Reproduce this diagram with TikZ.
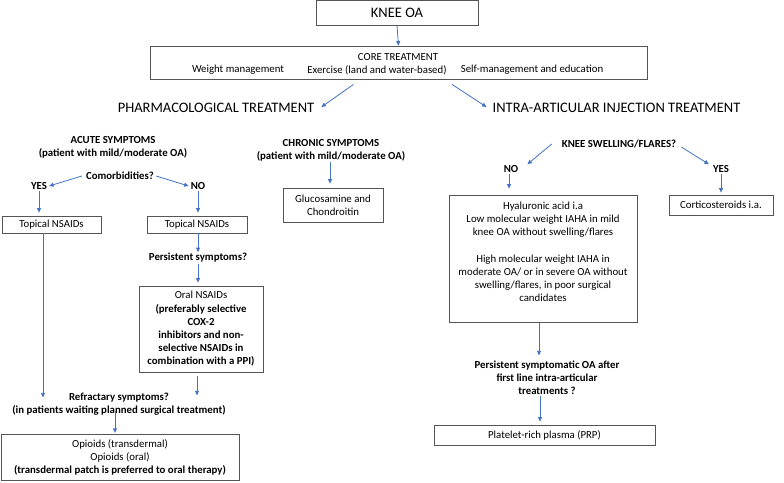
\documentclass[tikz,border=0pt]{standalone}
\usepackage{fontspec}
\setmainfont{Carlito}
\usetikzlibrary{arrows.meta,calc}
\definecolor{arrblue}{RGB}{68,114,196}
\definecolor{boxgray}{RGB}{85,85,85}
\begin{document}
\begin{tikzpicture}[x=1pt,y=-1pt,
  txt/.style={font=\fontsize{10.8}{13.2}\selectfont, align=center, inner sep=1pt},
  btxt/.style={font=\fontsize{10.8}{13.2}\selectfont\bfseries, align=center, inner sep=1pt},
  head/.style={font=\fontsize{14.5}{17}\selectfont, inner sep=1pt},
  box/.style={draw=boxgray, line width=0.8pt, inner sep=0pt, align=center, font=\fontsize{10.8}{13.2}\selectfont},
  arr/.style={draw=arrblue, line width=0.8pt, -{Triangle[length=4.5pt,width=4pt]}}
]
\useasboundingbox (0,0) rectangle (784,482);
% top
\node[box, minimum width=162pt, minimum height=25pt, font=\fontsize{14.5}{17}\selectfont] (knee) at (397,12.5) {KNEE OA};
\node[box, minimum width=497pt, minimum height=33pt] (core) at (398.5,62.5) {};
\node[txt] (coret) at (398,57) {CORE TREATMENT};
\node[txt] (cw) at (238,70) {Weight management};
\node[txt] (ce) at (377,70) {Exercise (land and water-based)};
\node[txt] (cs) at (532,70) {Self-management and education};
\draw[arr] (knee.south) -- (core.north);
\node[head] (pharm) at (216,108) {PHARMACOLOGICAL TREATMENT};
\node[head] (intra) at (616.5,108) {INTRA-ARTICULAR INJECTION TREATMENT};
\draw[arr] ([xshift=-45pt,yshift=-5pt]core.south) -- ([xshift=6pt,yshift=1pt]pharm.east);
\draw[arr] ([xshift=53.5pt,yshift=-5pt]core.south) -- ([xshift=-5pt,yshift=1pt]intra.west);
% acute
\node[btxt] (acute) at (113,147) {ACUTE SYMPTOMS\\(patient with mild/moderate OA)};
\node[btxt] (comorb) at (120,176) {Comorbidities?};
\node[btxt] (yes1) at (39,186) {YES};
\node[btxt] (no1) at (198,186) {NO};
\draw[arr] ([xshift=-3pt]comorb.west) -- ([xshift=1pt]yes1.east);
\draw[arr] ([xshift=1pt]comorb.east) -- ([xshift=-1pt]no1.west);
\node[box, minimum width=99pt, minimum height=17pt] (top1) at (51.5,224.5) {Topical NSAIDs};
\node[box, minimum width=100pt, minimum height=17pt] (top2) at (197,224.5) {Topical NSAIDs};
\draw[arr, shorten >=3pt] (yes1.south) -- (yes1.south |- top1.north);
\draw[arr, shorten >=3pt] (no1.south) -- (no1.south |- top2.north);
\node[btxt] (pers1) at (198,258) {Persistent symptoms?};
\draw[arr] (pers1.north |- top2.south) -- (pers1.north);
\node[box, minimum width=124pt, minimum height=86pt] (oral) at (201,329) {Oral NSAIDs\\\textbf{(preferably selective}\\\textbf{COX-2}\\\textbf{inhibitors and non-}\\\textbf{selective NSAIDs in}\\\textbf{combination with a PPI)}};
\draw[arr, shorten >=3pt] (pers1.south) -- (pers1.south |- oral.north);
\node[btxt] (refr) at (119,404.5) {Refractary symptoms?\\(in patients waiting planned surgical treatment)};
\node[box, minimum width=238pt, minimum height=46.5pt] (opio) at (120,457.5) {Opioids (transdermal)\\Opioids (oral)\\\textbf{(transdermal patch is preferred to oral therapy)}};
\draw[arr] ([xshift=-8.5pt]top1.south) -- ++(0,164);
\draw[arr] ([xshift=-4pt,yshift=-4pt]oral.south) -- ++(0,19);
\draw[arr, shorten >=1pt] ([xshift=-4pt,yshift=-6.5pt]refr.center) -- ([xshift=-4pt]refr.center |- opio.north);
% chronic
\node[btxt] (chron) at (331,150) {CHRONIC SYMPTOMS\\(patient with mild/moderate OA)};
\node[box, minimum width=100pt, minimum height=34pt] (gluc) at (333,205) {Glucosamine and\\Chondroitin};
\draw[arr, shorten >=4pt] ([xshift=-1pt]chron.south) -- ([xshift=-1pt]chron.south |- gluc.north);
% intra-articular
\node[btxt] (swell) at (619,144) {KNEE SWELLING/FLARES?};
\node[btxt] (no2) at (511,169) {NO};
\node[btxt] (yes2) at (721,169) {YES};
\draw[arr] ([xshift=-9pt]swell.west) -- ([xshift=8pt]no2.north east);
\draw[arr] ([xshift=4pt,yshift=-3pt]swell.east) -- ([xshift=-3pt]yes2.north west);
\node[box, minimum width=188pt, minimum height=127pt] (hya) at (543,258.5) {};
\node[txt, anchor=north] (hyat) at (543,200.5) {Hyaluronic acid i.a\\Low molecular weight IAHA in mild\\knee OA without swelling/flares\\[13.2pt]High molecular weight IAHA in\\moderate OA/ or in severe OA without\\swelling/flares, in poor surgical\\candidates};
\draw[arr, shorten >=6pt] ([xshift=-2pt]no2.south) -- ([xshift=-2pt]no2.south |- hya.north);
\node[box, minimum width=104pt, minimum height=20pt] (cort) at (721,205) {Corticosteroids i.a.};
\draw[arr, shorten >=2pt] (yes2.south) -- (yes2.south |- cort.north);
\node[btxt] (pers2) at (547,378) {Persistent symptomatic OA after\\first line intra-articular\\treatments ?};
\node[box, minimum width=221pt, minimum height=20pt] (prp) at (544.5,435) {Platelet-rich plasma (PRP)};
\draw[arr] ([xshift=-4pt,yshift=-1pt]hya.south) -- ++(0,32);
\draw[arr, shorten >=3pt] ([xshift=-7pt]pers2.south) -- ([xshift=-7pt]pers2.south |- prp.north);
\end{tikzpicture}
\end{document}
